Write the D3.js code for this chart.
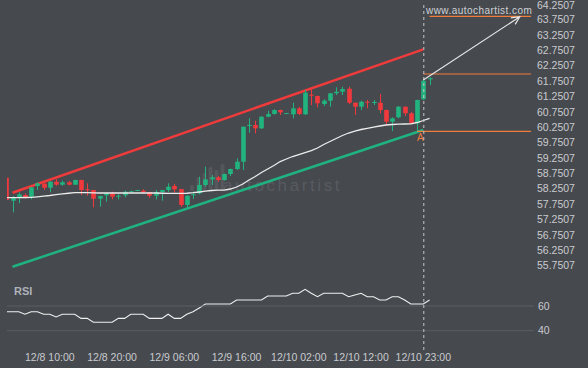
<!DOCTYPE html>
<html>
<head>
<meta charset="utf-8">
<script src="https://cdn.jsdelivr.net/npm/d3@7"></script>
<style>
  html, body { margin: 0; padding: 0; background: #46494e; }
  svg { display: block; font-family: "Liberation Sans", Arial, sans-serif; }
</style>
</head>
<body>
<svg id="chart"></svg>
<script>
// hourly candles, index 0 = 12/8 03:00
const opens = [58.634, 57.887, 58.007, 58.072, 58.017, 58.365, 58.439, 58.309, 58.504, 58.407,
  58.485, 58.407, 58.560, 58.257, 58.234, 57.952, 58.062, 58.127, 58.017, 58.062,
  58.169, 58.212, 58.212, 58.169, 58.049, 58.169, 58.234, 58.365, 58.267, 57.747,
  58.085, 58.127, 58.397, 58.582, 58.647, 58.560, 58.755, 58.918, 59.155, 60.316,
  60.348, 60.241, 60.618, 60.706, 60.836, 60.722, 60.696, 60.891, 60.696, 61.334,
  61.291, 61.031, 61.139, 61.379, 61.431, 61.529, 61.073, 60.943, 61.106, 61.073,
  61.073, 60.836, 60.456, 60.599, 60.943, 60.729, 60.403, 61.184, 61.834];
const highs = [58.660, 58.040, 58.160, 58.127, 58.330, 58.485, 58.485, 58.520, 58.582, 58.537,
  58.527, 58.570, 58.570, 58.452, 58.240, 58.050, 58.140, 58.179, 58.095, 58.212,
  58.212, 58.240, 58.257, 58.170, 58.234, 58.240, 58.452, 58.430, 58.270, 58.060,
  58.179, 58.667, 58.992, 58.722, 58.690, 58.770, 58.930, 59.265, 60.300, 60.566,
  60.488, 60.630, 60.813, 60.860, 60.850, 60.745, 61.073, 60.940, 61.487, 61.509,
  61.300, 61.184, 61.390, 61.574, 61.594, 61.594, 61.080, 61.139, 61.161, 61.161,
  61.357, 60.850, 60.599, 60.966, 60.950, 60.781, 61.170, 61.834, 61.900];
const lows = [57.880, 57.509, 57.802, 57.965, 57.932, 58.234, 58.234, 58.160, 58.374, 58.374,
  58.387, 58.400, 58.072, 58.049, 57.672, 57.691, 57.854, 57.932, 57.932, 57.997,
  58.147, 58.210, 58.127, 57.984, 57.932, 57.887, 58.169, 58.147, 57.691, 57.639,
  57.942, 58.095, 58.342, 58.397, 58.504, 58.540, 58.690, 58.885, 58.885, 60.098,
  60.078, 60.220, 60.600, 60.690, 60.673, 60.715, 60.566, 60.673, 60.673, 60.999,
  60.924, 60.966, 60.943, 61.324, 61.324, 61.031, 60.673, 60.836, 60.891, 60.999,
  60.729, 60.348, 60.153, 60.566, 60.641, 60.381, 60.131, 61.170, 61.649];
const closes = [57.909, 57.997, 58.095, 58.007, 58.322, 58.452, 58.309, 58.504, 58.407, 58.485,
  58.407, 58.560, 58.234, 58.234, 57.952, 58.039, 58.127, 58.017, 58.049, 58.179,
  58.192, 58.234, 58.169, 58.049, 58.169, 58.234, 58.342, 58.257, 57.747, 58.049,
  58.095, 58.397, 58.582, 58.647, 58.560, 58.755, 58.918, 59.155, 60.293, 60.348,
  60.241, 60.618, 60.706, 60.836, 60.761, 60.735, 60.891, 60.706, 61.399, 61.314,
  61.054, 61.139, 61.379, 61.431, 61.519, 61.073, 60.943, 61.106, 61.087, 61.096,
  60.836, 60.456, 60.566, 60.943, 60.729, 60.403, 61.161, 61.789, 61.867];

// moving average (white line)
const maValues = [57.984, 57.984, 57.987, 57.991, 57.997, 58.013, 58.033, 58.056, 58.088, 58.111,
  58.130, 58.147, 58.150, 58.147, 58.143, 58.137, 58.137, 58.137, 58.137, 58.137,
  58.137, 58.137, 58.137, 58.137, 58.137, 58.130, 58.127, 58.127, 58.127, 58.130,
  58.147, 58.170, 58.196, 58.218, 58.228, 58.234, 58.267, 58.332, 58.430, 58.560,
  58.674, 58.804, 58.918, 59.031, 59.161, 59.243, 59.324, 59.389, 59.454, 59.519,
  59.600, 59.714, 59.812, 59.909, 60.007, 60.088, 60.153, 60.202, 60.241, 60.283,
  60.316, 60.348, 60.365, 60.374, 60.381, 60.387, 60.430, 60.495, 60.566];

const rsiValues = [55.4, 55.4, 55.4, 53.3, 55.4, 55.4, 53.3, 53.3, 51.1, 53.3,
  53.3, 53.3, 50.0, 50.0, 46.8, 46.8, 46.8, 46.8, 50.0, 50.0,
  53.3, 53.3, 53.3, 50.0, 50.0, 50.0, 53.3, 50.0, 50.0, 53.3,
  55.4, 58.4, 61.6, 61.6, 61.6, 61.6, 61.6, 64.9, 64.9, 64.9,
  64.9, 64.9, 68.1, 68.1, 68.1, 68.1, 70.3, 70.3, 73.5, 70.3,
  67.5, 70.3, 70.3, 70.3, 70.3, 67.5, 68.9, 70.3, 67.5, 67.5,
  64.9, 64.9, 67.5, 67.5, 64.9, 61.6, 61.6, 61.6, 64.9];

const priceTicks = [64.2507, 63.7507, 63.2507, 62.7507, 62.2507, 61.7507, 61.2507, 60.7507, 60.2507,
  59.7507, 59.2507, 58.7507, 58.2507, 57.7507, 57.2507, 56.7507, 56.2507, 55.7507];
const timeTickIdx = [7, 17, 27, 37, 47, 57, 67];
const timeTickLabels = ['12/8 10:00', '12/8 20:00', '12/9 06:00', '12/9 16:00', '12/10 02:00', '12/10 12:00', '12/10 23:00'];
const rsiTicks = [60, 40];

// channel: [startIdx, startPrice, endIdx, endPrice]
const resistance = [1, 58.147, 67, 62.810];
const support = [1, 55.740, 67, 60.186];
// forecast levels: [startIdx, endIdx, price]
const levels = [[68, 84.3, 63.883], [67, 84.3, 62.007], [66, 84.3, 60.143]];
// forecast arrow: [startIdx, startPrice, endIdx, endPrice]
const forecast = [67, 61.812, 82.5, 63.870];
const patternEndIdx = 67;

const W = 588, H = 368;
const svg = d3.select('#chart').attr('width', W).attr('height', H);

const x = d3.scaleLinear().domain([0, 67]).range([6.28, 423.3]);
const y = d3.scaleLinear().domain([55.7507, 64.2507]).range([266.4, 5]);
const yRsi = d3.scaleLinear().domain([40, 60]).range([330.7, 306]);

const upColor = '#21b47f', downColor = '#f0393d';
const orange = '#f07d3c';

svg.append('defs').append('clipPath').attr('id', 'plot')
  .append('rect').attr('x', 7).attr('y', 0).attr('width', 528).attr('height', 350);

const plot = svg.append('g').attr('clip-path', 'url(#plot)');

// watermark (logo bars + name)
const wm = plot.append('g').attr('transform', 'translate(190,191)').attr('fill', '#54575c');
[[0, 6], [6.5, 14], [12.5, 18], [18.5, 24], [24.5, 21], [30.5, 27]].forEach(([dx, hgt]) => {
  wm.append('rect')
    .attr('x', dx).attr('y', -hgt)
    .attr('width', 4).attr('height', hgt)
    .attr('rx', 1.5);
});
wm.append('text')
  .attr('x', 33).attr('y', 0)
  .attr('font-size', 17).attr('letter-spacing', 2.6)
  .attr('fill', '#585b61')
  .text('autochartist');

// price axis labels
svg.append('g').selectAll('text')
  .data(priceTicks)
  .enter()
  .append('text')
  .attr('x', 537)
  .attr('y', d => Math.max(y(d) - 0.8, 5.8))
  .attr('dy', '0.35em')
  .attr('font-size', 10.5)
  .attr('fill', '#c9cbcf')
  .text(d => d.toFixed(4));

// rsi gridlines + labels
const rsiG = svg.append('g');
rsiG.selectAll('line')
  .data(rsiTicks)
  .enter()
  .append('line')
  .attr('x1', 7).attr('x2', 534)
  .attr('y1', d => yRsi(d)).attr('y2', d => yRsi(d))
  .attr('stroke', '#5b5e63').attr('stroke-width', 1);
rsiG.selectAll('text')
  .data(rsiTicks)
  .enter()
  .append('text')
  .attr('x', 538)
  .attr('y', d => yRsi(d))
  .attr('dy', '0.35em')
  .attr('font-size', 10.5)
  .attr('fill', '#c9cbcf')
  .text(d => d);

svg.append('text')
  .attr('x', 14).attr('y', 295)
  .attr('font-size', 11).attr('font-weight', 'bold')
  .attr('fill', '#aeb2b9')
  .text('RSI');

// time labels
svg.append('g').selectAll('text')
  .data(timeTickIdx)
  .enter()
  .append('text')
  .attr('x', d => x(d))
  .attr('y', 357)
  .attr('dy', '0.35em')
  .attr('text-anchor', 'middle')
  .attr('font-size', 10.5)
  .attr('fill', '#c9cbcf')
  .text((d, i) => timeTickLabels[i]);

// channel lines
[[resistance, '#ef3b3b'], [support, '#1fb381']].forEach(([l, c]) => {
  plot.append('line')
    .attr('x1', x(l[0])).attr('y1', y(l[1]))
    .attr('x2', x(l[2])).attr('y2', y(l[3]))
    .attr('stroke', c).attr('stroke-width', 2.5);
});

// candles
const candles = plot.append('g').selectAll('g')
  .data(opens.map((o, i) => ({ i, o, h: highs[i], l: lows[i], c: closes[i] })))
  .enter()
  .append('g');

candles.append('line')
  .attr('x1', d => Math.round(x(d.i)) + 0.5)
  .attr('x2', d => Math.round(x(d.i)) + 0.5)
  .attr('y1', d => y(d.h))
  .attr('y2', d => y(d.l))
  .attr('stroke', d => d.c >= d.o ? upColor : downColor)
  .attr('stroke-width', 1);

candles.append('rect')
  .attr('x', d => Math.round(x(d.i)) + 0.5 - 2.3)
  .attr('y', d => y(Math.max(d.o, d.c)))
  .attr('width', 4.6)
  .attr('height', d => Math.max(1, Math.abs(y(d.o) - y(d.c))))
  .attr('fill', d => d.c >= d.o ? upColor : downColor);

// moving average
plot.append('path')
  .datum(maValues)
  .attr('fill', 'none')
  .attr('stroke', '#ececec')
  .attr('stroke-width', 1.3)
  .attr('d', d3.line().x((d, i) => x(i)).y(d => y(d)));

// rsi line
plot.append('path')
  .datum(rsiValues)
  .attr('fill', 'none')
  .attr('stroke', '#f0f0f0')
  .attr('stroke-width', 1.1)
  .attr('d', d3.line().x((d, i) => x(i)).y(d => yRsi(d)));

// forecast levels
svg.append('g').selectAll('line')
  .data(levels)
  .enter()
  .append('line')
  .attr('x1', d => x(d[0])).attr('x2', d => x(d[1]))
  .attr('y1', d => y(d[2])).attr('y2', d => y(d[2]))
  .attr('stroke', orange).attr('stroke-width', 1.2);

// pattern end marker
svg.append('line')
  .attr('x1', x(patternEndIdx) + 0.5).attr('x2', x(patternEndIdx) + 0.5)
  .attr('y1', 5).attr('y2', 350)
  .attr('stroke', '#c8c8c8').attr('stroke-width', 1)
  .attr('stroke-dasharray', '3,3');

svg.append('text')
  .attr('x', x(patternEndIdx) - 3).attr('y', 140.5)
  .attr('text-anchor', 'middle')
  .attr('font-size', 10)
  .attr('fill', orange)
  .text('A');

// forecast arrow
const ax1 = x(forecast[0]), ay1 = y(forecast[1]);
const ax2 = x(forecast[2]), ay2 = y(forecast[3]);
const ang = Math.atan2(ay2 - ay1, ax2 - ax1);
const headLen = 9, spread = 0.45;
svg.append('path')
  .attr('fill', 'none')
  .attr('stroke', '#e6e6e6')
  .attr('stroke-width', 1.2)
  .attr('d', `M${ax1},${ay1}L${ax2},${ay2}` +
    `M${ax2 - headLen * Math.cos(ang - spread)},${ay2 - headLen * Math.sin(ang - spread)}L${ax2},${ay2}` +
    `L${ax2 - headLen * Math.cos(ang + spread)},${ay2 - headLen * Math.sin(ang + spread)}`);

svg.append('text')
  .attr('x', 426).attr('y', 14)
  .attr('font-size', 10).attr('letter-spacing', 0.45)
  .attr('fill', '#cfd1d4')
  .text('www.autochartist.com');
</script>
</body>
</html>
